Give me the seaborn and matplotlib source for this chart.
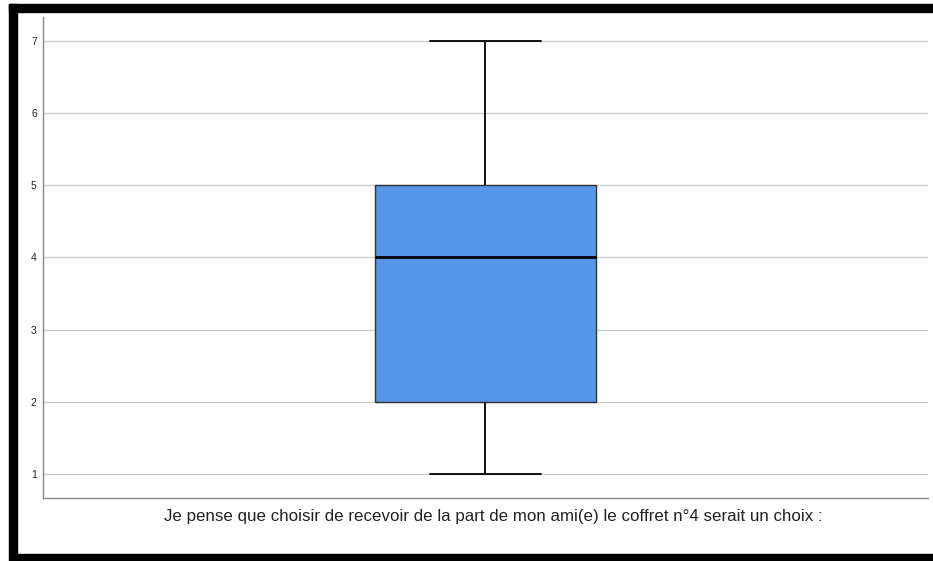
import numpy as np
import pandas as pd
import matplotlib
matplotlib.use("Agg")
import matplotlib.pyplot as plt
from matplotlib.patches import Rectangle
import seaborn as sns

# Likert scores (1-7) and how many respondents gave each one
scores = [1, 2, 3, 4, 5, 6, 7]
counts = [3, 5, 4, 5, 6, 4, 2]
y_ticks = [1, 2, 3, 4, 5, 6, 7]
x_label = "Je pense que choisir de recevoir de la part de mon ami(e) le coffret n°4 serait un choix :"

df = pd.DataFrame({"reponse": np.repeat(scores, counts)})

sns.set_style("white")
plt.rcParams["font.family"] = ["Liberation Sans", "DejaVu Sans"]

W, H = 933, 561
fig = plt.figure(figsize=(W / 100, H / 100), dpi=100)
ax = fig.add_axes([43 / W, (H - 497.7) / H, (928 - 43) / W, (497.7 - 17) / H])

sns.boxplot(
    y="reponse", data=df, ax=ax, width=0.25, whis=1.5, showfliers=False,
    boxprops=dict(facecolor="#5596E6", edgecolor="#333333", linewidth=1),
    whiskerprops=dict(color="#111111", linewidth=1.4),
    capprops=dict(color="#111111", linewidth=1.4),
    medianprops=dict(color="#000000", linewidth=2),
    zorder=3,
)

ax.set_xlim(-0.5, 0.5)
ax.set_ylim(0.672, 7.33)
ax.set_yticks(y_ticks)
ax.set_yticklabels([str(t) for t in y_ticks])
ax.yaxis.grid(True, color="#cfcfcf", linewidth=1)
ax.set_axisbelow(True)
ax.tick_params(axis="y", length=0, pad=4.5, labelsize=7.5, labelcolor="#222222")
ax.tick_params(axis="x", length=0, labelbottom=False)
ax.set_ylabel("")
ax.set_xlabel("")

for side in ["top", "right"]:
    ax.spines[side].set_visible(False)
for side in ["left", "bottom"]:
    ax.spines[side].set_color("#888888")
    ax.spines[side].set_linewidth(1)

# axis title below the plot, centred under the box
fig.text(493 / W, (H - 517) / H, x_label, ha="center", va="center",
         fontsize=12.2, color="#222222")

# black frame of the screenshot (left, top, bottom)
black = "#000000"
fig.add_artist(Rectangle((9 / W, 7 / H), 8 / W, (554 - 4) / H, transform=fig.transFigure, color=black))
fig.add_artist(Rectangle((9 / W, (H - 12) / H), 1, 8 / H, transform=fig.transFigure, color=black))
fig.add_artist(Rectangle((9 / W, 0), 1, 7 / H, transform=fig.transFigure, color=black))

fig.savefig("out.png", dpi=100)
